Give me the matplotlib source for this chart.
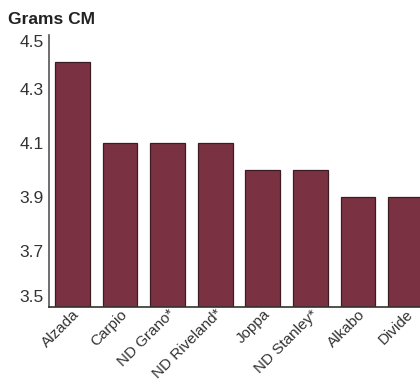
import matplotlib
matplotlib.use("Agg")
import matplotlib.pyplot as plt

# data
varieties = ["Alzada", "Carpio", "ND Grano*", "ND Riveland*", "Joppa",
             "ND Stanley*", "Alkabo", "Divide"]
grams_cm = [4.4, 4.1, 4.1, 4.1, 4.0, 4.0, 3.9, 3.9]
y_ticks = [3.5, 3.7, 3.9, 4.1, 4.3, 4.5]

fig = plt.figure(figsize=(4.2, 3.81), dpi=100)
ax = fig.add_axes([49 / 420, 1 - 307 / 381, 381 / 420, 272 / 381])

x = range(len(varieties))
ax.bar(x, grams_cm, width=0.73, color="#7a3242", edgecolor="#3b1c22",
       linewidth=0.9, zorder=2)

ax.set_xlim(-0.49, 7.51)
ax.set_ylim(3.4926, 4.5)

ax.set_yticks(y_ticks)
ax.set_yticklabels([f"{v:.1f}" for v in y_ticks], fontfamily="Liberation Sans",
                   fontsize=12.5, color="#333333")
labels = ax.get_yticklabels()
labels[0].set_va("bottom")
labels[-1].set_va("top")

ax.set_xticks(list(x))
ax.set_xticklabels(varieties, rotation=45, ha="right", rotation_mode="anchor",
                   fontfamily="Liberation Sans", fontsize=11, color="#333333")
ax.tick_params(axis="y", length=0, pad=4)
ax.tick_params(axis="x", length=0, pad=0)

for side in ["top", "right"]:
    ax.spines[side].set_visible(False)
ax.spines["left"].set_color("#555555")
ax.spines["bottom"].set_color("#333333")
ax.spines["left"].set_linewidth(1.2)
ax.spines["bottom"].set_linewidth(1.2)

fig.text(8 / 420, 1 - 19 / 381, "Grams CM", fontfamily="Liberation Sans",
         fontweight="bold", fontsize=12.5, color="#222222", va="center")

fig.savefig("out.png", dpi=100)
